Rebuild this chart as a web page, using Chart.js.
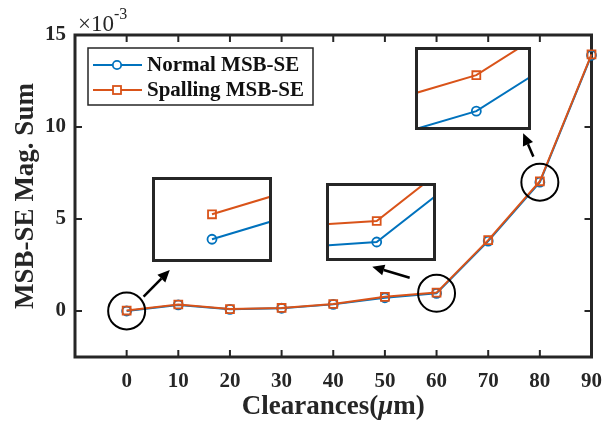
<!DOCTYPE html>
<html>
<head>
<meta charset="utf-8">
<script src="https://cdn.jsdelivr.net/npm/chart.js@4.4.0/dist/chart.umd.min.js"></script>
<style>
  html, body { margin: 0; padding: 0; background: #fff; }
  #wrap { position: relative; width: 614px; height: 429px; }
  #mainChart { position: absolute; left: 0; top: 0; }
  .inset { position: absolute; box-sizing: border-box; border: 3px solid #262626; background: #fff; }
  .inset canvas { display: block; }
</style>
</head>
<body>
<div id="wrap">
  <canvas id="mainChart" width="614" height="429"></canvas>
  <div class="inset" style="left:152px; top:177px; width:120px; height:85px;">
    <canvas id="inset0" width="114" height="79"></canvas>
  </div>
  <div class="inset" style="left:326px; top:183px; width:110px; height:78px;">
    <canvas id="inset1" width="104" height="72"></canvas>
  </div>
  <div class="inset" style="left:415px; top:47px; width:116px; height:83px;">
    <canvas id="inset2" width="110" height="77"></canvas>
  </div>
</div>
<script>
// clearance in micrometres
const clearances = [0, 10, 20, 30, 40, 50, 60, 70, 80, 90];
// magnitude sums, in units of 1e-3
const normalSum   = [0.000, 0.330, 0.090, 0.150, 0.360, 0.720, 0.960, 3.800, 7.000, 13.900];
const spallingSum = [0.024, 0.354, 0.105, 0.165, 0.380, 0.770, 1.000, 3.850, 7.050, 13.950];

const xTicks = [0, 10, 20, 30, 40, 50, 60, 70, 80, 90];
const yTicks = [0, 5, 10, 15];

// zoomed windows: which clearance is circled, and the x/y range shown in the box
const zoomAt     = [0, 60, 80];
const zoomXRange = [[-0.5, 0.5], [59.75, 60.295], [79.9255, 80.066]];
const zoomYRange = [[-0.019, 0.057], [0.9295, 1.0667], [6.978, 7.085]];

// arrows from the circled points to their boxes (data units)
const arrowFrom = [[3.28, 0.78], [54.8, 1.81], [78.75, 8.39]];
const arrowTo   = [[8.35, 2.23], [47.55, 2.41], [76.77, 9.66]];

const BLUE = '#0072BD';
const ORANGE = '#D95319';
const INK = '#262626';
const SERIF = '"Liberation Serif", "Times New Roman", serif';

const toPoints = ys => clearances.map((x, i) => ({ x: x, y: ys[i] }));

function makeDatasets(lineWidth) {
    return [
        {
            label: 'Normal MSB-SE',
            data: toPoints(normalSum),
            borderColor: BLUE,
            backgroundColor: 'rgba(0,0,0,0)',
            borderWidth: lineWidth,
            pointStyle: 'circle',
            pointRadius: 4.5,
            pointBorderWidth: 1.8,
            pointBorderColor: BLUE,
            pointBackgroundColor: 'rgba(0,0,0,0)',
            tension: 0,
            order: 1
        },
        {
            label: 'Spalling MSB-SE',
            data: toPoints(spallingSum),
            borderColor: ORANGE,
            backgroundColor: 'rgba(0,0,0,0)',
            borderWidth: lineWidth,
            pointStyle: 'rect',
            pointRadius: 5.6,
            pointBorderWidth: 1.8,
            pointBorderColor: ORANGE,
            pointBackgroundColor: 'rgba(0,0,0,0)',
            tension: 0,
            order: 0
        }
    ];
}

function line(ctx, x1, y1, x2, y2) {
    ctx.beginPath();
    ctx.moveTo(x1, y1);
    ctx.lineTo(x2, y2);
    ctx.stroke();
}

// box around the plot with inward ticks on all four sides
const framePlugin = {
    id: 'frame',
    beforeDatasetsDraw(chart) {
        const { ctx, chartArea: a, scales: { x, y } } = chart;
        ctx.save();
        ctx.strokeStyle = INK;
        ctx.lineWidth = 2;
        xTicks.forEach(v => {
            const px = x.getPixelForValue(v);
            line(ctx, px, a.bottom, px, a.bottom - 7);
            line(ctx, px, a.top, px, a.top + 7);
        });
        yTicks.forEach(v => {
            const py = y.getPixelForValue(v);
            line(ctx, a.left, py, a.left + 7, py);
            line(ctx, a.right, py, a.right - 7, py);
        });
        ctx.lineWidth = 3;
        ctx.strokeRect(a.left, a.top, a.right - a.left, a.bottom - a.top);
        ctx.restore();
    }
};

// circles, arrows, legend, axis titles and the exponent label
const decorPlugin = {
    id: 'decor',
    afterDatasetsDraw(chart) {
        const { ctx, chartArea: a, scales: { x, y } } = chart;
        ctx.save();

        // circles around the zoomed points
        ctx.strokeStyle = '#000';
        ctx.lineWidth = 2;
        zoomAt.forEach(c => {
            const i = clearances.indexOf(c);
            ctx.beginPath();
            ctx.arc(x.getPixelForValue(c), y.getPixelForValue(normalSum[i]), 18.5, 0, Math.PI * 2);
            ctx.stroke();
        });

        // arrows
        ctx.fillStyle = '#000';
        arrowFrom.forEach((f, k) => {
            const x1 = x.getPixelForValue(f[0]), y1 = y.getPixelForValue(f[1]);
            const x2 = x.getPixelForValue(arrowTo[k][0]), y2 = y.getPixelForValue(arrowTo[k][1]);
            const ang = Math.atan2(y2 - y1, x2 - x1);
            const head = 12, half = 5.5;
            const bx = x2 - head * Math.cos(ang), by = y2 - head * Math.sin(ang);
            ctx.lineWidth = 2.5;
            line(ctx, x1, y1, bx, by);
            ctx.beginPath();
            ctx.moveTo(x2, y2);
            ctx.lineTo(bx + half * Math.sin(ang), by - half * Math.cos(ang));
            ctx.lineTo(bx - half * Math.sin(ang), by + half * Math.cos(ang));
            ctx.closePath();
            ctx.fill();
        });

        // legend
        const lx = a.left + 13, ly = a.top + 13, lw = 225, lh = 57;
        ctx.fillStyle = '#fff';
        ctx.fillRect(lx, ly, lw, lh);
        ctx.strokeStyle = INK;
        ctx.lineWidth = 1.5;
        ctx.strokeRect(lx, ly, lw, lh);
        ctx.font = 'bold 21px ' + SERIF;
        ctx.textBaseline = 'middle';
        ctx.textAlign = 'left';
        chart.data.datasets.forEach((ds, i) => {
            const ry = ly + 17 + i * 25;
            ctx.strokeStyle = ds.borderColor;
            ctx.lineWidth = 2;
            line(ctx, lx + 5, ry, lx + 54, ry);
            ctx.lineWidth = 1.8;
            if (ds.pointStyle === 'circle') {
                ctx.beginPath();
                ctx.arc(lx + 29, ry, 4.2, 0, Math.PI * 2);
                ctx.fillStyle = '#fff';
                ctx.fill();
                ctx.stroke();
            } else {
                ctx.fillStyle = '#fff';
                ctx.fillRect(lx + 25, ry - 4, 8, 8);
                ctx.strokeRect(lx + 25, ry - 4, 8, 8);
            }
            ctx.fillStyle = '#111';
            ctx.fillText(ds.label, lx + 59, ry + 1);
        });

        // x axis title with italic mu
        const parts = [['Clearances(', 'bold 27px '], ['\u03bc', 'italic bold 27px '], ['m)', 'bold 27px ']];
        let total = 0;
        parts.forEach(p => { ctx.font = p[1] + SERIF; total += ctx.measureText(p[0]).width; });
        let tx = (a.left + a.right) / 2 - total / 2;
        ctx.fillStyle = '#262626';
        ctx.textBaseline = 'alphabetic';
        parts.forEach(p => {
            ctx.font = p[1] + SERIF;
            ctx.fillText(p[0], tx, 414);
            tx += ctx.measureText(p[0]).width;
        });

        // y axis title
        ctx.save();
        ctx.translate(33, (a.top + a.bottom) / 2);
        ctx.rotate(-Math.PI / 2);
        ctx.font = 'bold 27px ' + SERIF;
        ctx.textAlign = 'center';
        ctx.fillText('MSB-SE Mag. Sum', 0, 0);
        ctx.restore();

        // exponent label
        ctx.textAlign = 'left';
        ctx.font = '23px ' + SERIF;
        ctx.fillText('\u00d710', a.left + 3, a.top - 4);
        const w10 = ctx.measureText('\u00d710').width;
        ctx.font = '16px ' + SERIF;
        ctx.fillText('-3', a.left + 3 + w10, a.top - 16);

        ctx.restore();
    }
};

new Chart(document.getElementById('mainChart'), {
    type: 'line',
    data: { datasets: makeDatasets(2) },
    options: {
        responsive: false,
        animation: false,
        devicePixelRatio: 1,
        layout: { autoPadding: false, padding: { top: 35, right: 12, bottom: 0, left: 0 } },
        plugins: { legend: { display: false }, tooltip: { enabled: false } },
        datasets: { line: { clip: false } },
        scales: {
            x: {
                type: 'linear',
                min: -10,
                max: 90,
                afterBuildTicks: s => { s.ticks = xTicks.map(v => ({ value: v })); },
                afterFit: s => { s.height = 72; },
                grid: { display: false, drawTicks: false },
                border: { display: false },
                ticks: {
                    padding: 12,
                    maxRotation: 0,
                    color: '#262626',
                    font: { family: SERIF, size: 21, weight: 'bold' }
                }
            },
            y: {
                type: 'linear',
                min: -2.5,
                max: 15,
                afterBuildTicks: s => { s.ticks = yTicks.map(v => ({ value: v })); },
                afterFit: s => { s.width = 75; },
                grid: { display: false, drawTicks: false },
                border: { display: false },
                ticks: {
                    padding: 9,
                    color: '#262626',
                    font: { family: SERIF, size: 21, weight: 'bold' }
                }
            }
        }
    },
    plugins: [framePlugin, decorPlugin]
});

// the three magnified boxes
zoomAt.forEach((c, k) => {
    new Chart(document.getElementById('inset' + k), {
        type: 'line',
        data: { datasets: makeDatasets(2) },
        options: {
            responsive: false,
            animation: false,
            devicePixelRatio: 1,
            layout: { autoPadding: false, padding: 0 },
            plugins: { legend: { display: false }, tooltip: { enabled: false } },
            scales: {
                x: { type: 'linear', display: false, min: zoomXRange[k][0], max: zoomXRange[k][1] },
                y: { type: 'linear', display: false, min: zoomYRange[k][0], max: zoomYRange[k][1] }
            }
        }
    });
});
</script>
</body>
</html>
